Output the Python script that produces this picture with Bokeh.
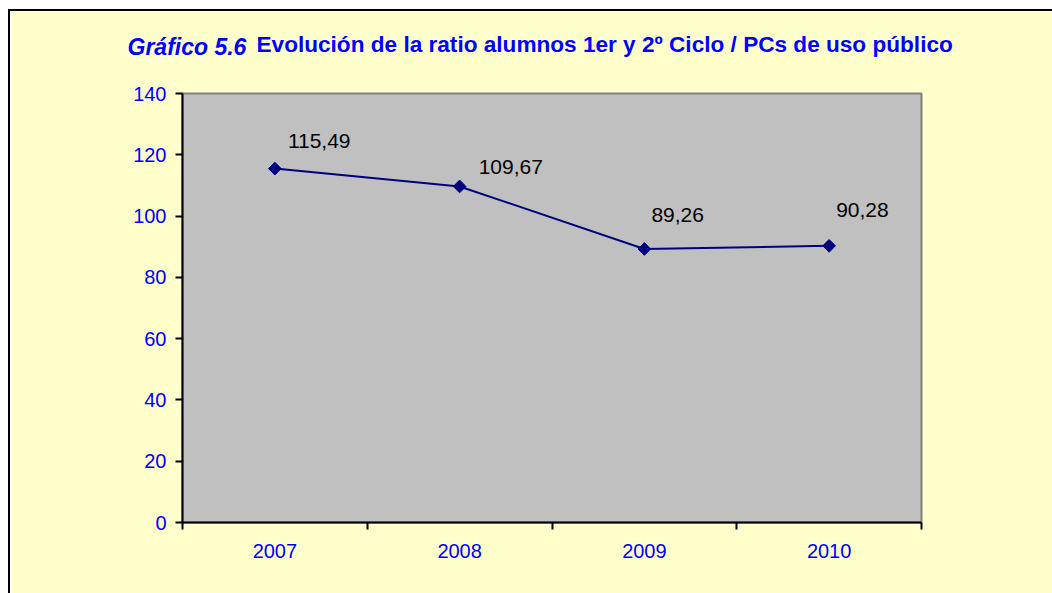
from bokeh.plotting import figure
from bokeh.models import Label, FixedTicker, ColumnDataSource, Range1d
from bokeh.embed import file_html
from bokeh.resources import INLINE
from bokeh.core.properties import value

years = ["2007", "2008", "2009", "2010"]
ratios = [115.49, 109.67, 89.26, 90.28]
label_texts = ["115,49", "109,67", "89,26", "90,28"]
y_ticks = [0, 20, 40, 60, 80, 100, 120, 140]
title_a = "Gráfico 5.6"
title_b = "Evolución de la ratio alumnos 1er y 2º Ciclo / PCs de uso público"

# pixel offsets of the value labels (layout only)
label_dx = [13, 19, 7, 7]
label_dy = [28, 19, 34, 36]

FONT = "Liberation Sans"
BLUE = "#0000FF"
NAVY = "#000080"

xs = [i + 0.5 for i in range(len(years))]

p = figure(width=1044, height=584, output_backend="svg", toolbar_location=None,
           x_range=Range1d(0, len(years)), y_range=Range1d(0, 140),
           min_border_left=172, min_border_right=133,
           min_border_top=82, min_border_bottom=73)
p.styles = {"margin-left": "8px", "margin-top": "9px",
            "border-left": "2px solid black", "border-top": "2px solid black"}

p.border_fill_color = "#FFFFCC"
p.background_fill_color = "#C0C0C0"
p.outline_line_color = "#808080"
p.outline_line_width = 2
p.xgrid.visible = False
p.ygrid.visible = False

xa = p.xaxis[0]
xa.ticker = FixedTicker(ticks=xs, minor_ticks=list(range(len(years) + 1)))
xa.major_label_overrides = {x: y for x, y in zip(xs, years)}
xa.major_tick_line_color = None
xa.major_tick_out = 0
xa.major_tick_in = 0
xa.minor_tick_line_color = "black"
xa.minor_tick_line_width = 2
xa.minor_tick_out = 7
xa.minor_tick_in = 0
xa.axis_line_color = "black"
xa.axis_line_width = 2
xa.major_label_standoff = 14
xa.major_label_text_font = FONT
xa.major_label_text_font_size = "20px"
xa.major_label_text_color = BLUE

ya = p.yaxis[0]
ya.ticker = FixedTicker(ticks=y_ticks, minor_ticks=[])
ya.major_tick_line_color = "black"
ya.major_tick_line_width = 2
ya.major_tick_out = 7
ya.major_tick_in = 0
ya.minor_tick_line_color = None
ya.axis_line_color = "black"
ya.axis_line_width = 2
ya.major_label_standoff = 9
ya.major_label_text_font = FONT
ya.major_label_text_font_size = "20px"
ya.major_label_text_color = BLUE

src = ColumnDataSource(data=dict(x=xs, y=ratios, t=label_texts,
                                 dx=label_dx, dy=[-d for d in label_dy]))

p.line("x", "y", source=src, line_color=NAVY, line_width=2)
p.scatter("x", "y", source=src, marker="square", size=9, angle=0.785398,
          fill_color=NAVY, line_color=NAVY)
p.text("x", "y", text="t", source=src, x_offset="dx", y_offset="dy",
       text_align="left", text_baseline="alphabetic",
       text_font=value(FONT), text_font_size="21px", text_color="black")

p.add_layout(Label(x=-55, y=47, x_units="screen", y_units="screen",
                   text=title_a, text_font=FONT, text_font_size="23px",
                   text_font_style="bold italic", text_color=BLUE,
                   text_baseline="alphabetic", text_align="left"), "above")
p.add_layout(Label(x=74, y=23, x_units="screen", y_units="screen",
                   text=title_b, text_font=FONT, text_font_size="22.6px",
                   text_font_style="bold", text_color=BLUE,
                   text_baseline="alphabetic", text_align="left"), "above")

open("out.html", "w").write(file_html(p, INLINE))
